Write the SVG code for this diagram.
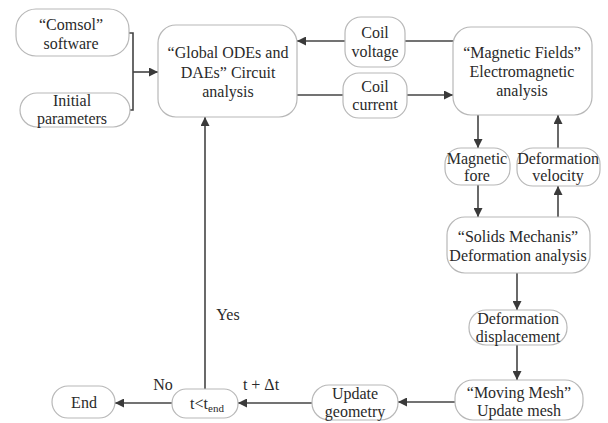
<svg xmlns="http://www.w3.org/2000/svg" width="608" height="423" viewBox="0 0 608 423">
<defs>
<marker id="ah" viewBox="0 0 10 10" refX="10" refY="5" markerWidth="9" markerHeight="9" markerUnits="userSpaceOnUse" orient="auto">
<path d="M0,0 L10,5 L0,10 z" fill="#3a3a3a"/>
</marker>
</defs>
<rect width="608" height="423" fill="#fff"/>
<g id="connectors" fill="none" stroke="#444" stroke-width="1.6">
<polyline points="128,33 133,33 133,110 130,110"/>
<line x1="133" y1="72" x2="158" y2="72" marker-end="url(#ah)"/>
<line x1="453" y1="41" x2="405" y2="41"/>
<line x1="345" y1="41" x2="297" y2="41" marker-end="url(#ah)"/>
<line x1="297" y1="95" x2="343" y2="95"/>
<line x1="407" y1="95" x2="453" y2="95" marker-end="url(#ah)"/>
<line x1="478" y1="115" x2="478" y2="148" marker-end="url(#ah)"/>
<line x1="478" y1="185" x2="478" y2="217" marker-end="url(#ah)"/>
<line x1="558" y1="217" x2="558" y2="186" marker-end="url(#ah)"/>
<line x1="558" y1="148" x2="558" y2="115" marker-end="url(#ah)"/>
<line x1="517" y1="273" x2="517" y2="310" marker-end="url(#ah)"/>
<line x1="517" y1="345" x2="517" y2="380" marker-end="url(#ah)"/>
<line x1="455" y1="402" x2="398" y2="402" marker-end="url(#ah)"/>
<line x1="312" y1="403" x2="238" y2="403" marker-end="url(#ah)"/>
<line x1="172" y1="403" x2="115" y2="403" marker-end="url(#ah)"/>
<line x1="205" y1="389" x2="205" y2="117" marker-end="url(#ah)"/>
</g>
<text x="228" y="320" font-family="Liberation Serif, Times New Roman, serif" font-size="16" fill="#2a2a2a" text-anchor="middle">Yes</text>
<text x="163" y="390" font-family="Liberation Serif, Times New Roman, serif" font-size="16" fill="#2a2a2a" text-anchor="middle">No</text>
<text x="261" y="390" font-family="Liberation Serif, Times New Roman, serif" font-size="16" fill="#2a2a2a" text-anchor="middle">t + Δt</text>
<g id="comsol">
<rect x="16" y="9" width="113" height="47" rx="20" fill="#fff" stroke="#b8b8b8" stroke-width="1.2"/>
<text x="71" y="30" font-family="Liberation Serif, Times New Roman, serif" font-size="16" fill="#2a2a2a" text-anchor="middle">“Comsol”</text>
<text x="71" y="49" font-family="Liberation Serif, Times New Roman, serif" font-size="16" fill="#2a2a2a" text-anchor="middle">software</text>
</g>
<g id="initial">
<rect x="20" y="93" width="110" height="34" rx="17" fill="#fff" stroke="#b8b8b8" stroke-width="1.2"/>
<text x="72" y="106" font-family="Liberation Serif, Times New Roman, serif" font-size="16" fill="#2a2a2a" text-anchor="middle">Initial</text>
<text x="72" y="124" font-family="Liberation Serif, Times New Roman, serif" font-size="16" fill="#2a2a2a" text-anchor="middle">parameters</text>
</g>
<g id="global">
<rect x="158" y="25" width="139" height="92" rx="18" fill="#fff" stroke="#b8b8b8" stroke-width="1.2"/>
<text x="228" y="58" font-family="Liberation Serif, Times New Roman, serif" font-size="16" fill="#2a2a2a" text-anchor="middle">“Global ODEs and</text>
<text x="228" y="78" font-family="Liberation Serif, Times New Roman, serif" font-size="16" fill="#2a2a2a" text-anchor="middle">DAEs” Circuit</text>
<text x="228" y="97" font-family="Liberation Serif, Times New Roman, serif" font-size="16" fill="#2a2a2a" text-anchor="middle">analysis</text>
</g>
<g id="coilvoltage">
<rect x="345" y="17" width="60" height="50" rx="16" fill="#fff" stroke="#b8b8b8" stroke-width="1.2"/>
<text x="375" y="38" font-family="Liberation Serif, Times New Roman, serif" font-size="16" fill="#2a2a2a" text-anchor="middle">Coil</text>
<text x="375" y="57" font-family="Liberation Serif, Times New Roman, serif" font-size="16" fill="#2a2a2a" text-anchor="middle">voltage</text>
</g>
<g id="coilcurrent">
<rect x="343" y="73" width="64" height="45" rx="16" fill="#fff" stroke="#b8b8b8" stroke-width="1.2"/>
<text x="375" y="92" font-family="Liberation Serif, Times New Roman, serif" font-size="16" fill="#2a2a2a" text-anchor="middle">Coil</text>
<text x="375" y="110" font-family="Liberation Serif, Times New Roman, serif" font-size="16" fill="#2a2a2a" text-anchor="middle">current</text>
</g>
<g id="magnetic">
<rect x="453" y="27" width="139" height="88" rx="18" fill="#fff" stroke="#b8b8b8" stroke-width="1.2"/>
<text x="522" y="58" font-family="Liberation Serif, Times New Roman, serif" font-size="16" fill="#2a2a2a" text-anchor="middle">“Magnetic Fields”</text>
<text x="522" y="77" font-family="Liberation Serif, Times New Roman, serif" font-size="16" fill="#2a2a2a" text-anchor="middle">Electromagnetic</text>
<text x="522" y="96" font-family="Liberation Serif, Times New Roman, serif" font-size="16" fill="#2a2a2a" text-anchor="middle">analysis</text>
</g>
<g id="magfore">
<rect x="445" y="148" width="65" height="37" rx="16" fill="#fff" stroke="#b8b8b8" stroke-width="1.2"/>
<text x="477" y="164" font-family="Liberation Serif, Times New Roman, serif" font-size="16" fill="#2a2a2a" text-anchor="middle">Magnetic</text>
<text x="477" y="181" font-family="Liberation Serif, Times New Roman, serif" font-size="16" fill="#2a2a2a" text-anchor="middle">fore</text>
</g>
<g id="defvel">
<rect x="517" y="148" width="83" height="38" rx="16" fill="#fff" stroke="#b8b8b8" stroke-width="1.2"/>
<text x="558" y="164" font-family="Liberation Serif, Times New Roman, serif" font-size="16" fill="#2a2a2a" text-anchor="middle">Deformation</text>
<text x="558" y="181" font-family="Liberation Serif, Times New Roman, serif" font-size="16" fill="#2a2a2a" text-anchor="middle">velocity</text>
</g>
<g id="solids">
<rect x="447" y="217" width="143" height="56" rx="18" fill="#fff" stroke="#b8b8b8" stroke-width="1.2"/>
<text x="518" y="242" font-family="Liberation Serif, Times New Roman, serif" font-size="16" fill="#2a2a2a" text-anchor="middle">“Solids Mechanis”</text>
<text x="518" y="261" font-family="Liberation Serif, Times New Roman, serif" font-size="16" fill="#2a2a2a" text-anchor="middle">Deformation analysis</text>
</g>
<g id="defdisp">
<rect x="469" y="310" width="98" height="35" rx="17" fill="#fff" stroke="#b8b8b8" stroke-width="1.2"/>
<text x="518" y="324" font-family="Liberation Serif, Times New Roman, serif" font-size="16" fill="#2a2a2a" text-anchor="middle">Deformation</text>
<text x="518" y="342" font-family="Liberation Serif, Times New Roman, serif" font-size="16" fill="#2a2a2a" text-anchor="middle">displacement</text>
</g>
<g id="movingmesh">
<rect x="455" y="380" width="128" height="40" rx="18" fill="#fff" stroke="#b8b8b8" stroke-width="1.2"/>
<text x="519" y="398" font-family="Liberation Serif, Times New Roman, serif" font-size="16" fill="#2a2a2a" text-anchor="middle">“Moving Mesh”</text>
<text x="519" y="416" font-family="Liberation Serif, Times New Roman, serif" font-size="16" fill="#2a2a2a" text-anchor="middle">Update mesh</text>
</g>
<g id="updategeom">
<rect x="312" y="385" width="86" height="35" rx="17" fill="#fff" stroke="#b8b8b8" stroke-width="1.2"/>
<text x="355" y="399" font-family="Liberation Serif, Times New Roman, serif" font-size="16" fill="#2a2a2a" text-anchor="middle">Update</text>
<text x="355" y="417" font-family="Liberation Serif, Times New Roman, serif" font-size="16" fill="#2a2a2a" text-anchor="middle">geometry</text>
</g>
<g id="tcond">
<rect x="172" y="389" width="66" height="29" rx="14" fill="#fff" stroke="#b8b8b8" stroke-width="1.2"/>
<text x="207" y="409" font-family="Liberation Serif, Times New Roman, serif" font-size="16" fill="#2a2a2a" text-anchor="middle">t&lt;t<tspan font-size="11" dy="3">end</tspan></text>
</g>
<g id="end">
<rect x="52" y="386" width="63" height="32" rx="16" fill="#fff" stroke="#b8b8b8" stroke-width="1.2"/>
<text x="84" y="408" font-family="Liberation Serif, Times New Roman, serif" font-size="16" fill="#2a2a2a" text-anchor="middle">End</text>
</g>
</svg>
